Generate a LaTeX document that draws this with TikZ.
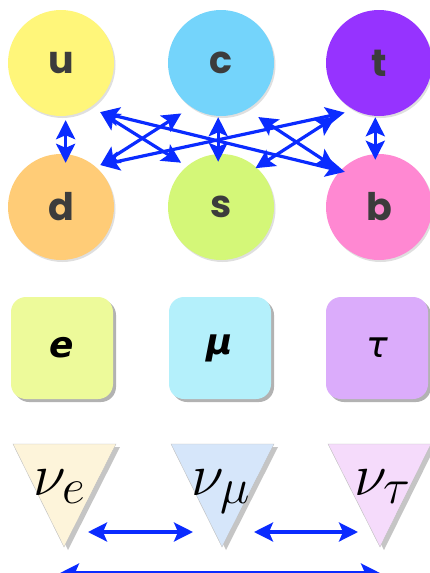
\documentclass[tikz,border=0pt]{standalone}
\usepackage{graphicx}
\usepackage{fontspec}
\setsansfont{Poppins}
\newfontfamily\dejavu{DejaVu Sans}
\usetikzlibrary{shadows,arrows.meta}
\definecolor{cu}{HTML}{FFF67A}
\definecolor{cc}{HTML}{74D4FB}
\definecolor{ct}{HTML}{9633FF}
\definecolor{cd}{HTML}{FFCC77}
\definecolor{cs}{HTML}{D4F778}
\definecolor{cb}{HTML}{FF88D2}
\definecolor{ce}{HTML}{EDFA9A}
\definecolor{cmu}{HTML}{B4F0FB}
\definecolor{ctau}{HTML}{DBACFB}
\definecolor{cne}{HTML}{FDF4DA}
\definecolor{cnm}{HTML}{D6E6FA}
\definecolor{cnt}{HTML}{F5DBFB}
\definecolor{arrowblue}{HTML}{0A2BFF}
\definecolor{qtext}{HTML}{3C3C3C}
\begin{document}
\begin{tikzpicture}[x=1pt,y=-1pt,
  quark/.style={circle, minimum size=106pt, inner sep=0pt,
    font=\sffamily\bfseries\fontsize{38}{38}\selectfont, text=qtext,
    drop shadow={shadow xshift=1.5pt, shadow yshift=-2pt, opacity=0.25}},
  lepton/.style={rectangle, rounded corners=15pt, minimum width=102pt, minimum height=102pt,
    inner sep=0pt, font=\dejavu\fontsize{36}{36}\selectfont,
    drop shadow={shadow xshift=3pt, shadow yshift=-3pt, opacity=0.6}},
  nutri/.style={draw=black!25, line width=0.4pt,
    drop shadow={shadow xshift=4pt, shadow yshift=-3pt, opacity=0.45}},
  nulabel/.style={inner sep=0pt, anchor=base, font=\fontsize{24.88}{25}\selectfont},
  mix/.style={draw=arrowblue, line width=3.2pt,
    {Stealth[length=19pt,width=19pt,inset=4pt]}-{Stealth[length=19pt,width=19pt,inset=4pt]}}
]
\useasboundingbox (0,0) rectangle (430,573);
\clip (0,0) rectangle (430,573);
\fill[white] (0,0) rectangle (430,573);

% quarks
\node[quark, fill=cu] (u) at (61,63) {u};
\node[quark, fill=cc] (c) at (221,63) {c};
\node[quark, fill=ct] (t) at (379,63) {t};
\node[quark, fill=cd] (d) at (61,207) {d};
\node[quark, fill=cs] (s) at (221,207) {s};
\node[quark, fill=cb] (b) at (379,207) {b};

% mixing arrows
\draw[mix, shorten <=4.2pt, shorten >=-8.8pt] (u.-85.7) -- (d.85.7);
\draw[mix, shorten <=1.1pt, shorten >=-7.9pt] (c.-93.2) -- (s.93.2);
\draw[mix, shorten <=1.2pt, shorten >=-5.8pt] (t.-94.3) -- (b.94.3);
\draw[mix, shorten <=10.3pt, shorten >=6.7pt] (u.-55.1) -- (s.130.3);
\draw[mix, shorten <=12.9pt, shorten >=-4.9pt] (u.-60) -- (b.137);
\draw[mix, shorten <=4.5pt, shorten >=11.8pt] (d.48.4) -- (c.-124.6);
\draw[mix, shorten <=5.4pt, shorten >=10.4pt] (d.50.5) -- (t.-117.9);
\draw[mix, shorten <=13.7pt, shorten >=5.9pt] (c.-61.1) -- (b.137.6);
\draw[mix, shorten <=-1.3pt, shorten >=17.9pt] (s.48.5) -- (t.-123.1);

% charged leptons
\node[lepton, fill=ce] (e) at (62,348) {\bfseries\itshape e};
\node[lepton, fill=cmu] (mu) at (220,348) {\bfseries\itshape μ};
\node[lepton, fill=ctau] (tau) at (377,348) {\itshape τ};

% neutrinos
\filldraw[nutri, fill=cne] (13,444) -- (116,444) -- (64,547) -- cycle;
\filldraw[nutri, fill=cnm] (171,444) -- (274,444) -- (222,547) -- cycle;
\filldraw[nutri, fill=cnt] (328,444) -- (431,444) -- (380,547) -- cycle;
\node[nulabel] (ne) at (60,495) {\scalebox{2.4}{$\nu_e$}};
\node[nulabel] (nm) at (221,495) {\scalebox{2.4}{$\nu_\mu$}};
\node[nulabel] (nt) at (383,495) {\scalebox{2.4}{$\nu_\tau$}};

\coordinate (ne-r) at (88,532);
\coordinate (nm-l) at (193,532);
\coordinate (nm-r) at (254,532);
\coordinate (nt-l) at (358,532);
\coordinate (ne-b) at (60,573);
\coordinate (nt-b) at (380,573);
\draw[mix] (ne-r) -- (nm-l);
\draw[mix] (nm-r) -- (nt-l);
\draw[mix] (ne-b) -- (nt-b);
\end{tikzpicture}
\end{document}
